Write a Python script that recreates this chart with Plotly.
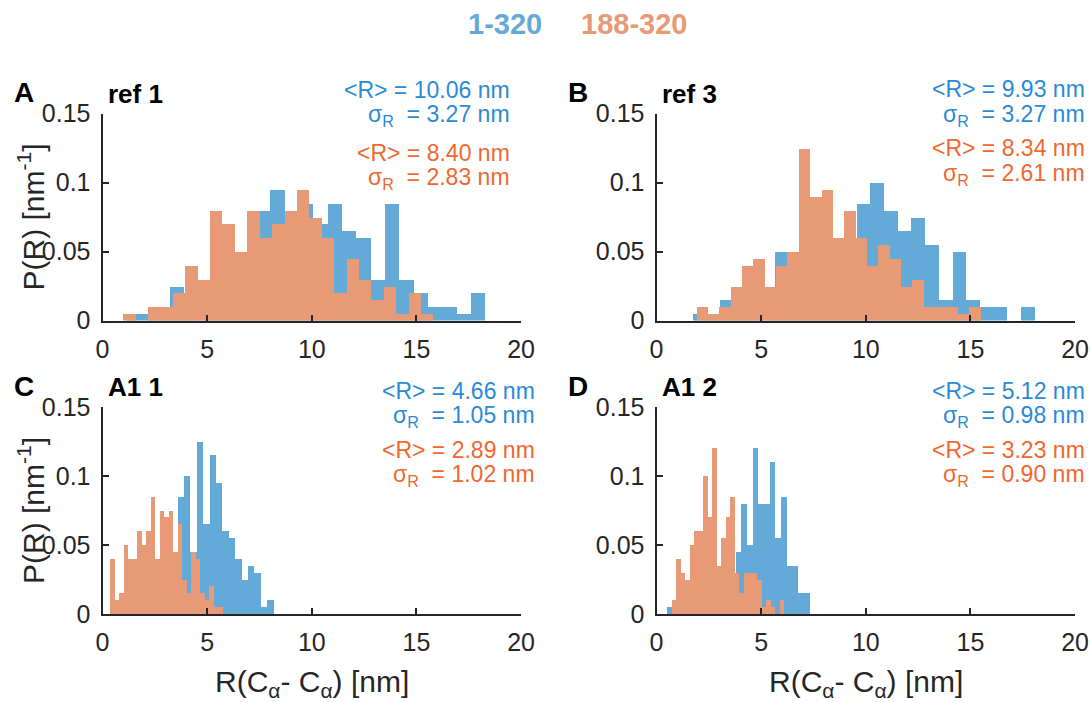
import numpy as np
import plotly.graph_objects as go

# ---------------------------------------------------------------------------
# Histogram data: 25 equal-width bins spanning each series' [min, max] range,
# counts per bin (probability normalisation applied below).
# ---------------------------------------------------------------------------
panels = ["A", "B", "C", "D"]
panel_titles = ["ref 1", "ref 3", "A1 1", "A1 2"]
series_names = ["1-320", "188-320"]

# bin ranges [lo, hi] in nm
range_full = {"A": [1.13, 18.27], "B": [1.70, 18.04], "C": [0.50, 8.15], "D": [0.50, 7.29]}
range_frag = {"A": [0.965, 15.79], "B": [1.89, 15.46], "C": [0.358, 5.71], "D": [0.693, 6.09]}

counts_full = {
    "A": [1, 1, 2, 5, 4, 5, 7, 5, 6, 16, 19, 14, 17, 14, 17, 13, 12, 6, 17, 6, 4, 2, 2, 1, 4],
    "B": [1, 1, 3, 4, 6, 5, 10, 8, 13, 14, 10, 11, 17, 20, 16, 13, 15, 11, 3, 10, 3, 2, 2, 0, 2],
    "C": [0, 1, 1, 1, 2, 2, 3, 3, 4, 5, 17, 20, 9, 25, 13, 23, 19, 12, 11, 8, 5, 7, 6, 1, 2],
    "D": [1, 1, 1, 2, 2, 3, 3, 4, 5, 5, 6, 6, 9, 16, 10, 24, 16, 16, 22, 11, 17, 7, 7, 3, 3],
}
counts_frag = {
    "A": [1, 0, 2, 2, 4, 8, 6, 16, 14, 10, 16, 12, 14, 16, 19, 15, 12, 4, 9, 6, 3, 5, 1, 4, 1],
    "B": [2, 1, 2, 5, 8, 9, 5, 8, 10, 25, 18, 19, 12, 16, 12, 8, 11, 9, 5, 6, 2, 2, 2, 1, 2],
    "C": [8, 2, 3, 10, 8, 8, 12, 10, 12, 17, 8, 15, 14, 15, 9, 13, 5, 3, 9, 8, 3, 2, 4, 1, 1],
    "D": [2, 8, 6, 5, 10, 12, 12, 20, 14, 24, 7, 11, 14, 17, 6, 3, 6, 6, 6, 5, 1, 2, 1, 0, 2],
}

# summary statistics printed in each panel
mean_full = {"A": "10.06", "B": "9.93", "C": "4.66", "D": "5.12"}
sd_full = {"A": "3.27", "B": "3.27", "C": "1.05", "D": "0.98"}
mean_frag = {"A": "8.40", "B": "8.34", "C": "2.89", "D": "3.23"}
sd_frag = {"A": "2.83", "B": "2.61", "C": "1.02", "D": "0.90"}

x_ticks = [0, 5, 10, 15, 20]
y_ticks = [0, 0.05, 0.1, 0.15]
y_tick_text = ["0", "0.05", "0.1", "0.15"]

# ---------------------------------------------------------------------------
W, H = 1091, 702
FONT = "Liberation Sans, Arial, Helvetica, sans-serif"
BAR_BLUE = "#64AAD8"
BAR_ORANGE = "#E89975"
TXT_BLUE = "#2A8AD8"
TXT_ORANGE = "#F0682F"
AXIS = "#262626"


def fx(p):
    return p / W


def fy(p):
    return 1 - p / H


# axes geometry in pixels: left edge, px per nm, bottom (y=0), top (y=0.15)
x_left = {"A": 102.5, "B": 656.5, "C": 102.5, "D": 656.5}
x_scale = 20.93
y_bottom = {"A": 320.5, "B": 320.5, "C": 614.0, "D": 614.0}
y_top = {"A": 113.5, "B": 113.5, "C": 407.0, "D": 407.0}


def hist_trace(lo, hi, counts, color, idx):
    edges = np.linspace(lo, hi, len(counts) + 1)
    centers = 0.5 * (edges[:-1] + edges[1:])
    width = edges[1] - edges[0]
    c = np.asarray(counts, dtype=float)
    prob = c / c.sum()
    return go.Bar(
        x=centers, y=prob, width=width,
        marker=dict(color=color, line=dict(width=0)),
        xaxis=f"x{idx if idx > 1 else ''}", yaxis=f"y{idx if idx > 1 else ''}",
        showlegend=False, hoverinfo="skip",
    )


fig = go.Figure()
layout = dict(
    template="none",
    width=W, height=H, autosize=False,
    margin=dict(l=0, r=0, t=0, b=0, pad=0),
    paper_bgcolor="white", plot_bgcolor="white",
    barmode="overlay", bargap=0,
    font=dict(family=FONT, color=AXIS),
    showlegend=False,
)

annotations = []
for i, p in enumerate(panels, start=1):
    fig.add_trace(hist_trace(*range_full[p], counts_full[p], BAR_BLUE, i))
    fig.add_trace(hist_trace(*range_frag[p], counts_frag[p], BAR_ORANGE, i))

    sfx = "" if i == 1 else str(i)
    layout[f"xaxis{sfx}"] = dict(
        domain=[fx(x_left[p]), fx(x_left[p] + 20 * x_scale)],
        anchor=f"y{sfx}", range=[0, 20], tickvals=x_ticks,
        ticks="inside", ticklen=6, tickwidth=1.5, tickcolor=AXIS,
        showline=True, linecolor=AXIS, linewidth=2, automargin=False,
        showgrid=False, zeroline=False, ticklabelstandoff=5,
        tickfont=dict(family=FONT, size=25, color=AXIS),
    )
    layout[f"yaxis{sfx}"] = dict(
        domain=[fy(y_bottom[p]), fy(y_top[p])],
        anchor=f"x{sfx}", range=[0, 0.15], tickvals=y_ticks, ticktext=y_tick_text,
        ticks="inside", ticklen=6, tickwidth=1.5, tickcolor=AXIS,
        showline=True, linecolor=AXIS, linewidth=2, automargin=False,
        showgrid=False, zeroline=False, ticklabelstandoff=5,
        tickfont=dict(family=FONT, size=25, color=AXIS),
    )

    top = y_top[p]
    # panel letter and title
    annotations.append(dict(
        text=f"<b>{p}</b>", x=fx(x_left[p] - 91), y=fy(top - 21),
        xref="paper", yref="paper", xanchor="left", yanchor="middle",
        showarrow=False, font=dict(family=FONT, size=28, color="black")))
    annotations.append(dict(
        text=f"<b>{panel_titles[i - 1]}</b>", x=fx(x_left[p] + 3), y=fy(top - 20),
        xref="paper", yref="paper", xanchor="left", yanchor="middle",
        showarrow=False, font=dict(family=FONT, size=26, color="black")))

    # statistics block, right aligned
    right = {"A": 512, "B": 1087, "C": 537, "D": 1087}[p]
    rows = {
        "A": [90, 115, 153, 178], "B": [89, 115, 148, 174],
        "C": [391, 416.5, 449.5, 475.5], "D": [391, 416.5, 449.5, 475.5],
    }[p]
    lines = [
        (f"&lt;R&gt; = {mean_full[p]} nm", TXT_BLUE),
        (f"σ<sub>R</sub>\u00a0 = {sd_full[p]} nm", TXT_BLUE),
        (f"&lt;R&gt; = {mean_frag[p]} nm", TXT_ORANGE),
        (f"σ<sub>R</sub>\u00a0 = {sd_frag[p]} nm", TXT_ORANGE),
    ]
    for (txt, col), yy in zip(lines, rows):
        annotations.append(dict(
            text=txt, x=fx(right), y=fy(yy), xref="paper", yref="paper",
            xanchor="right", yanchor="middle", showarrow=False,
            font=dict(family=FONT, size=23, color=col)))

# axis titles (left column: y, bottom row: x)
for yc in (217.5, 511):
    annotations.append(dict(
        text="P(R) [nm<sup>-1</sup>]", x=fx(31), y=fy(yc), xref="paper", yref="paper",
        xanchor="center", yanchor="middle", textangle=-90, showarrow=False,
        font=dict(family=FONT, size=30, color=AXIS)))
for xc in (311.5, 865.5):
    annotations.append(dict(
        text="R(C<sub>α</sub>- C<sub>α</sub>) [nm]", x=fx(xc), y=fy(683),
        xref="paper", yref="paper", xanchor="center", yanchor="middle",
        showarrow=False, font=dict(family=FONT, size=30, color=AXIS)))

# series key at the top
annotations.append(dict(
    text=f"<b>{series_names[0]}</b>", x=fx(505), y=fy(24), xref="paper", yref="paper",
    xanchor="center", yanchor="middle", showarrow=False,
    font=dict(family=FONT, size=29, color=BAR_BLUE)))
annotations.append(dict(
    text=f"<b>{series_names[1]}</b>", x=fx(634), y=fy(24), xref="paper", yref="paper",
    xanchor="center", yanchor="middle", showarrow=False,
    font=dict(family=FONT, size=29, color=BAR_ORANGE)))

layout["annotations"] = annotations
fig.update_layout(**layout)
fig.write_html(
    "out.html",
    post_script="document.body.style.margin='0';document.body.style.overflow='hidden';",
)
